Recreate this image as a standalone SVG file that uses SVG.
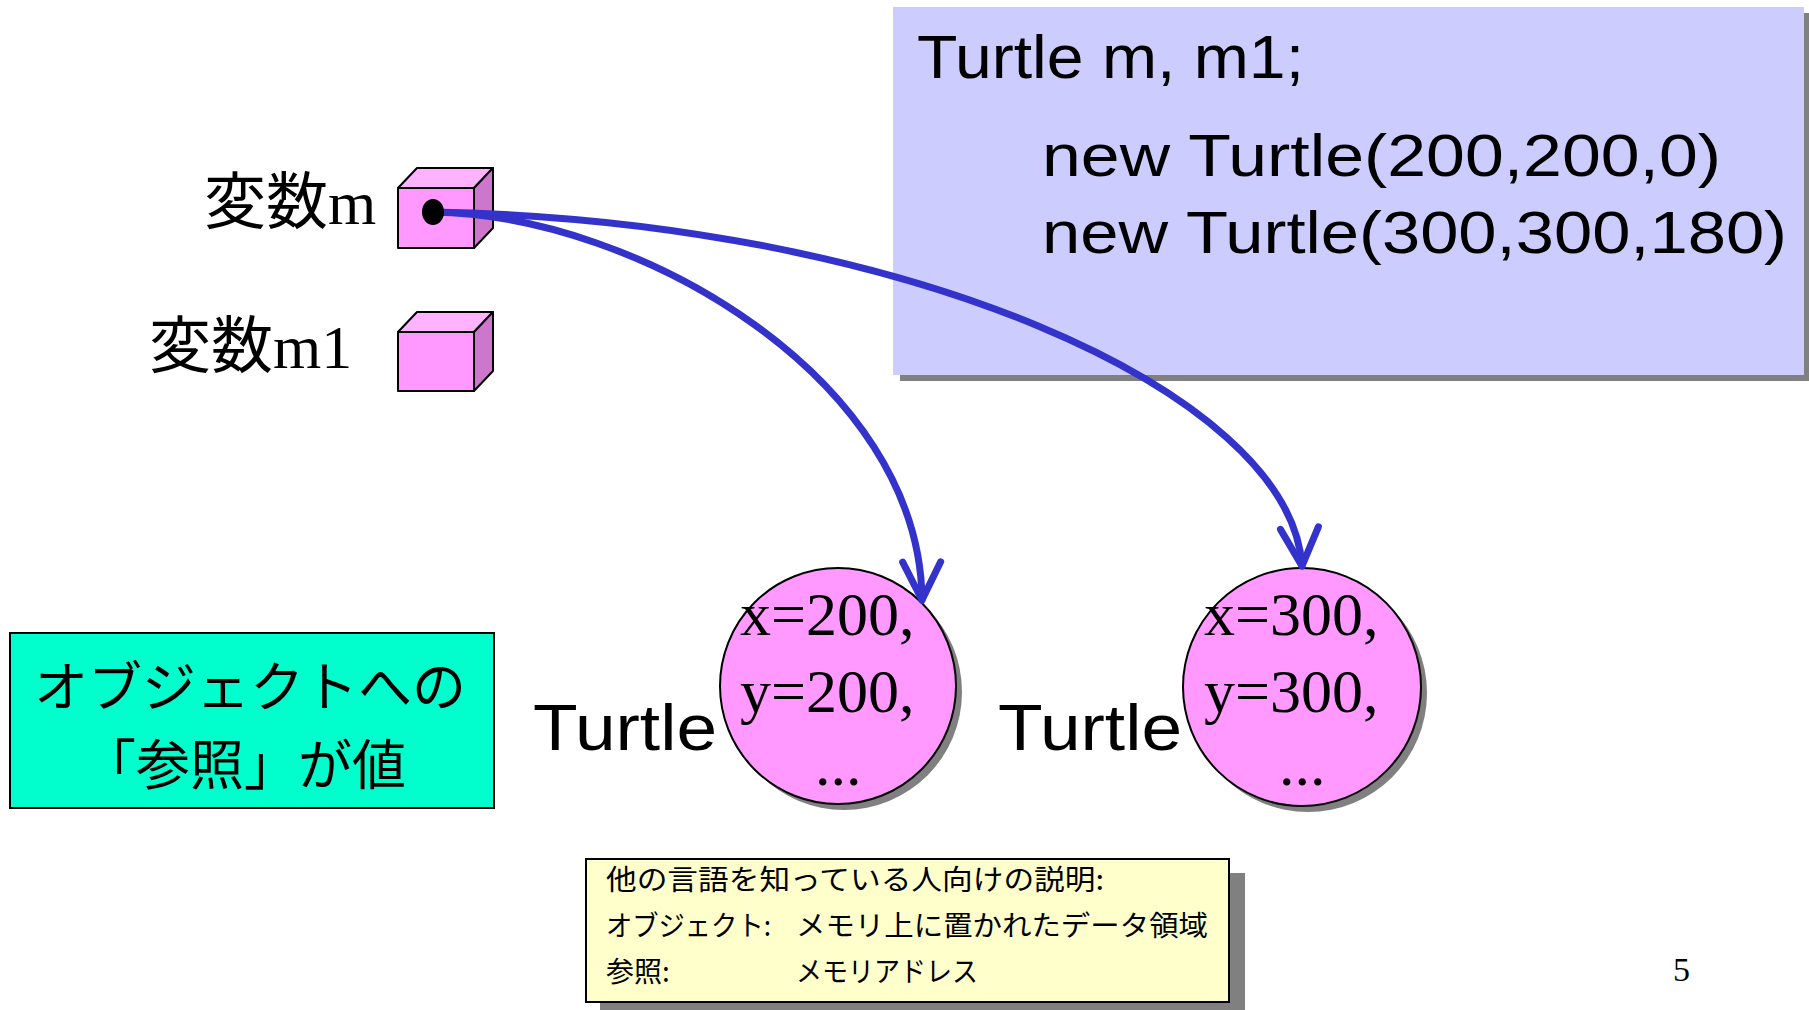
<svg xmlns="http://www.w3.org/2000/svg" width="1809" height="1010" viewBox="0 0 1809 1010">
<defs>
<style>
.serif{font-family:"Liberation Serif","Noto Sans CJK JP",serif;fill:#000}
.goth{font-family:"Noto Sans CJK JP",sans-serif;fill:#000}
.comic{font-family:"Liberation Sans","Noto Sans",sans-serif;fill:#000}
.cubeF{fill:#FF99FF;stroke:#000;stroke-width:2;stroke-linejoin:round}
.cubeT{fill:#FFB3FF;stroke:#000;stroke-width:2;stroke-linejoin:round}
.cubeS{fill:#CC77CC;stroke:#000;stroke-width:2;stroke-linejoin:round}
.obj{fill:#FF99FF;stroke:#000;stroke-width:2}
.shadow{fill:#808080}
.conn{fill:none;stroke:#3333CC;stroke-width:7;stroke-linecap:round}
</style>
<marker id="vhead" markerUnits="userSpaceOnUse" viewBox="-50 -30 60 60" refX="0" refY="0" markerWidth="60" markerHeight="60" orient="auto" overflow="visible">
<path d="M-38,-19 L0,0 L-38,19" fill="none" stroke="#3333CC" stroke-width="7" stroke-linecap="round" stroke-linejoin="round"/>
</marker>
</defs>
<rect width="1809" height="1010" fill="#fff"/>

<g id="code-box">
<rect class="shadow" x="900" y="13" width="911" height="368"/>
<rect x="893" y="7" width="911" height="368" fill="#CCCCFF"/>
<text class="comic" x="917" y="78" font-size="62" textLength="387" lengthAdjust="spacingAndGlyphs">Turtle m, m1;</text>
<text class="comic" x="1042" y="176" font-size="60" textLength="679" lengthAdjust="spacingAndGlyphs">new Turtle(200,200,0)</text>
<text class="comic" x="1042" y="253" font-size="60" textLength="745" lengthAdjust="spacingAndGlyphs">new Turtle(300,300,180)</text>
</g>

<g id="var-m">
<text class="serif" x="204" y="224" font-size="62">変数m</text>
<polygon class="cubeT" points="398,188 417,168 493,168 474,188"/>
<polygon class="cubeS" points="474,188 493,168 493,228 474,248"/>
<rect class="cubeF" x="398" y="188" width="76" height="60"/>
</g>

<g id="var-m1">
<text class="serif" x="149" y="368" font-size="62">変数m1</text>
<polygon class="cubeT" points="398,332 417,312 493,312 474,332"/>
<polygon class="cubeS" points="474,332 493,312 493,371 474,391"/>
<rect class="cubeF" x="398" y="332" width="76" height="59"/>
</g>

<g id="obj1">
<text class="comic" x="533" y="750" font-size="64" textLength="184" lengthAdjust="spacingAndGlyphs">Turtle</text>
<circle class="shadow" cx="844" cy="692" r="118"/>
<circle class="obj" cx="838" cy="686" r="118"/>
<text class="serif" x="740" y="635" font-size="62">x=200,</text>
<text class="serif" x="740" y="712" font-size="62">y=200,</text>
<text class="serif" x="815" y="785" font-size="62">...</text>
</g>

<g id="obj2">
<text class="comic" x="998" y="750" font-size="64" textLength="184" lengthAdjust="spacingAndGlyphs">Turtle</text>
<circle class="shadow" cx="1308" cy="693" r="119"/>
<circle class="obj" cx="1302" cy="687" r="119"/>
<text class="serif" x="1204" y="635" font-size="62">x=300,</text>
<text class="serif" x="1204" y="712" font-size="62">y=300,</text>
<text class="serif" x="1279" y="785" font-size="62">...</text>
</g>

<g id="note-ref">
<rect x="10" y="633" width="484" height="175" fill="#00FFCC" stroke="#000" stroke-width="2"/>
<text class="goth" x="250" y="707" font-size="54" text-anchor="middle">オブジェクトへの</text>
<text class="goth" x="244" y="785" font-size="54" text-anchor="middle">「参照」が値</text>
</g>

<g id="note-explain">
<rect class="shadow" x="600" y="873" width="645" height="143"/>
<rect x="586" y="859" width="643" height="143" fill="#FFFFCC" stroke="#000" stroke-width="2"/>
<text class="goth" x="606" y="890" font-size="28" textLength="498" lengthAdjust="spacingAndGlyphs">他の言語を知っている人向けの説明:</text>
<text class="goth" x="606" y="936" font-size="28" textLength="165" lengthAdjust="spacingAndGlyphs">オブジェクト:</text>
<text class="goth" x="796" y="936" font-size="28" textLength="412" lengthAdjust="spacingAndGlyphs">メモリ上に置かれたデータ領域</text>
<text class="goth" x="606" y="982" font-size="28">参照:</text>
<text class="goth" x="796" y="982" font-size="28" textLength="182" lengthAdjust="spacingAndGlyphs">メモリアドレス</text>
</g>

<g id="connectors">
<path class="conn" d="M433,212 C640,215 920,380 922,600" marker-end="url(#vhead)"/>
<path class="conn" d="M433,212 C900,220 1290,390 1302,566" marker-end="url(#vhead)"/>
<ellipse cx="433" cy="212" rx="11" ry="13" fill="#000"/>
</g>

<text class="serif" x="1673" y="981" font-size="34">5</text>
</svg>
